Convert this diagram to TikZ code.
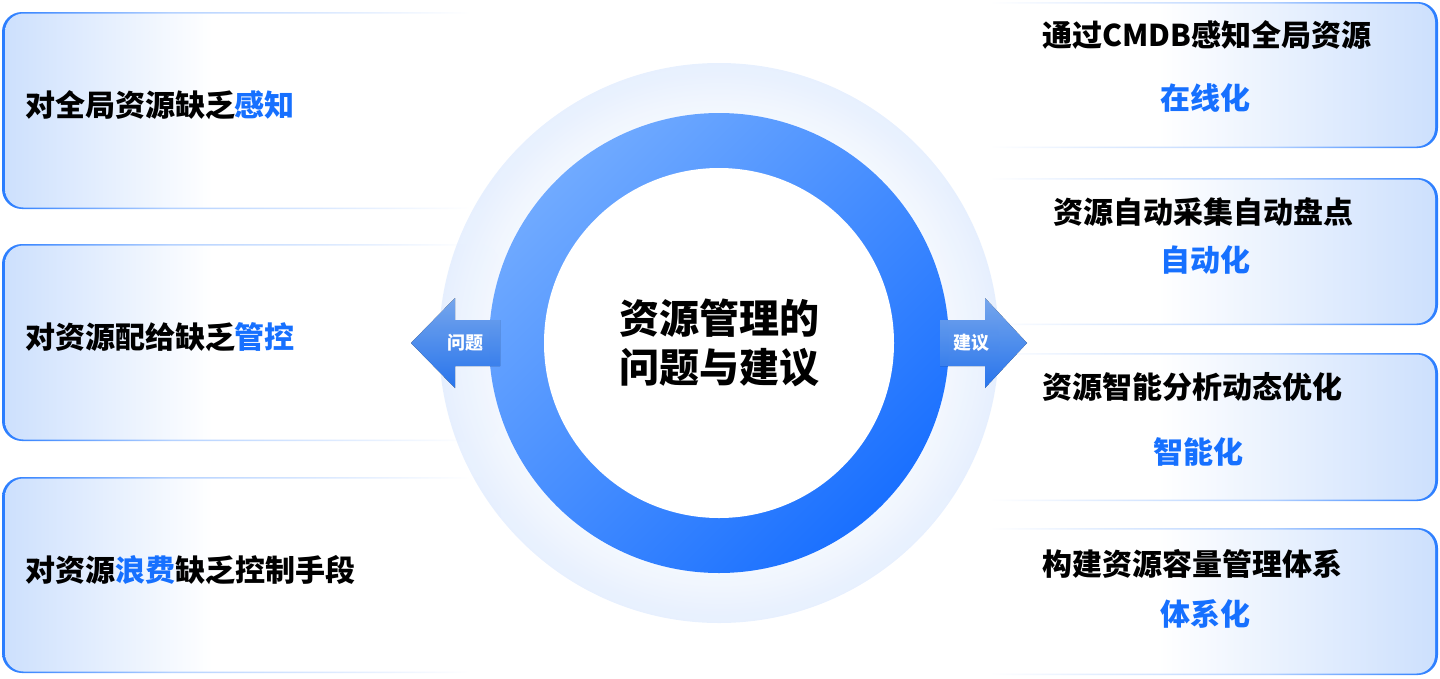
\documentclass[tikz,border=0pt]{standalone}
\usepackage{fontspec}
\setmainfont{Noto Sans CJK SC}[BoldFont={Noto Sans CJK SC Black}]
\usetikzlibrary{positioning,calc}
\definecolor{ringlight}{HTML}{70AAFF}
\definecolor{ringdark}{HTML}{1A70FF}
\definecolor{boxedge}{HTML}{2A7DFF}
\definecolor{boxtint}{HTML}{CDE0FD}
\definecolor{halo}{HTML}{E4EEFE}
\definecolor{keyblue}{HTML}{1670FF}
\pgfdeclarehorizontalshading{lfill}{100bp}{color(0bp)=(boxtint); color(25bp)=(boxtint); color(46bp)=(white); color(100bp)=(white)}
\pgfdeclarehorizontalshading{ledge}{100bp}{color(0bp)=(boxedge); color(25bp)=(boxedge); color(42bp)=(boxedge!35!white); color(72bp)=(white); color(100bp)=(white)}
\pgfdeclarehorizontalshading{rfill}{100bp}{color(0bp)=(white); color(47bp)=(white); color(75bp)=(boxtint); color(100bp)=(boxtint)}
\pgfdeclarehorizontalshading{redge}{100bp}{color(0bp)=(white); color(30bp)=(white); color(58bp)=(boxedge!35!white); color(75bp)=(boxedge); color(100bp)=(boxedge)}
\pgfdeclareradialshading{haloshade}{\pgfpoint{0bp}{0bp}}{color(0bp)=(white); color(19bp)=(halo!30!white); color(25bp)=(halo); color(50bp)=(halo)}
\newcommand{\keyw}[1]{\textcolor{keyblue}{#1}}
\tikzset{
panel/.style={rectangle,rounded corners=20pt,inner sep=0pt,minimum width=498pt},
lpanel/.style={panel,shading=ledge},
lpanelin/.style={panel,shading=lfill,minimum width=495pt,rounded corners=18.5pt},
rpanel/.style={panel,shading=redge},
rpanelin/.style={panel,shading=rfill,minimum width=495pt,rounded corners=18.5pt},
txt/.style={inner sep=0pt,font=\bfseries\fontsize{30}{35}\selectfont},
tag/.style={inner sep=0pt,text=white,font=\bfseries\fontsize{18}{22}\selectfont},
arrowbody/.style={top color=ringlight!90!white,bottom color=boxedge,fill opacity=0.92},
}

\begin{document}
\begin{tikzpicture}[x=1pt,y=-1pt]
	\useasboundingbox (0,0) rectangle (1440,678);

	% problems on the left
	\foreach \i/\top/\bot in {1/12/209,2/244/441,3/477/673}{
		\node[lpanel,minimum height={\bot-\top}] (p\i) at (251,{(\top+\bot)/2}) {};
		\node[lpanelin,minimum height={\bot-\top-3}] at ([xshift=1.5pt]p\i) {};
	}
	\node[txt,anchor=west] (pt1) at ([xshift=23pt,yshift=5pt]p1.west) {对全局资源缺乏\keyw{感知}};
	\node[txt,anchor=west] (pt2) at ([xshift=23pt,yshift=5pt]p2.west) {对资源配给缺乏\keyw{管控}};
	\node[txt,anchor=west] (pt3) at ([xshift=23pt,yshift=5pt]p3.west) {对资源\keyw{浪费}缺乏控制手段};

	% suggestions on the right
	\foreach \i/\top/\bot in {1/2/148,2/178/325,3/353/501,4/528/675}{
		\node[rpanel,minimum height={\bot-\top}] (s\i) at (1189,{(\top+\bot)/2}) {};
		\node[rpanelin,minimum height={\bot-\top-3}] at ([xshift=-1.5pt]s\i) {};
	}
	\node[txt,anchor=west] (st1) at (1042,35) {通过CMDB感知全局资源};
	\node[txt,text=keyblue] (sk1) at (1205,98) {在线化};
	\node[txt,anchor=west] (st2) at (1053,212) {资源自动采集自动盘点};
	\node[txt,text=keyblue] (sk2) at (1205,260) {自动化};
	\node[txt,anchor=west] (st3) at (1042,387) {资源智能分析动态优化};
	\node[txt,text=keyblue] (sk3) at (1198,452) {智能化};
	\node[txt,anchor=west] (st4) at (1042,564) {构建资源容量管理体系};
	\node[txt,text=keyblue] (sk4) at (1205,614) {体系化};

	% centre ring
	\node[circle,minimum size=560pt,shading=haloshade,fill opacity=0.9] (halo) at (719,343) {};
	\node[circle,minimum size=460pt,top color=ringlight,bottom color=ringdark,shading angle=45] (ring) at (719,343) {};
	\node[circle,minimum size=350pt,fill=white,align=center,inner sep=0pt,
		font=\bfseries\fontsize{40}{49}\selectfont] (core) at (ring) {资源管理的\\问题与建议};

	% arrows
	\fill[arrowbody] (500,320) -- (455,320) -- (455,298) -- (411,343) -- (455,388) -- (455,366) -- (500,366) -- cycle;
	\fill[arrowbody] (940,320) -- (985,320) -- (985,298) -- (1027,343) -- (985,388) -- (985,366) -- (940,366) -- cycle;
	\node[tag] (qtag) at (465,343) {问题};
	\node[tag] (jtag) at (971,343) {建议};
\end{tikzpicture}
\end{document}
